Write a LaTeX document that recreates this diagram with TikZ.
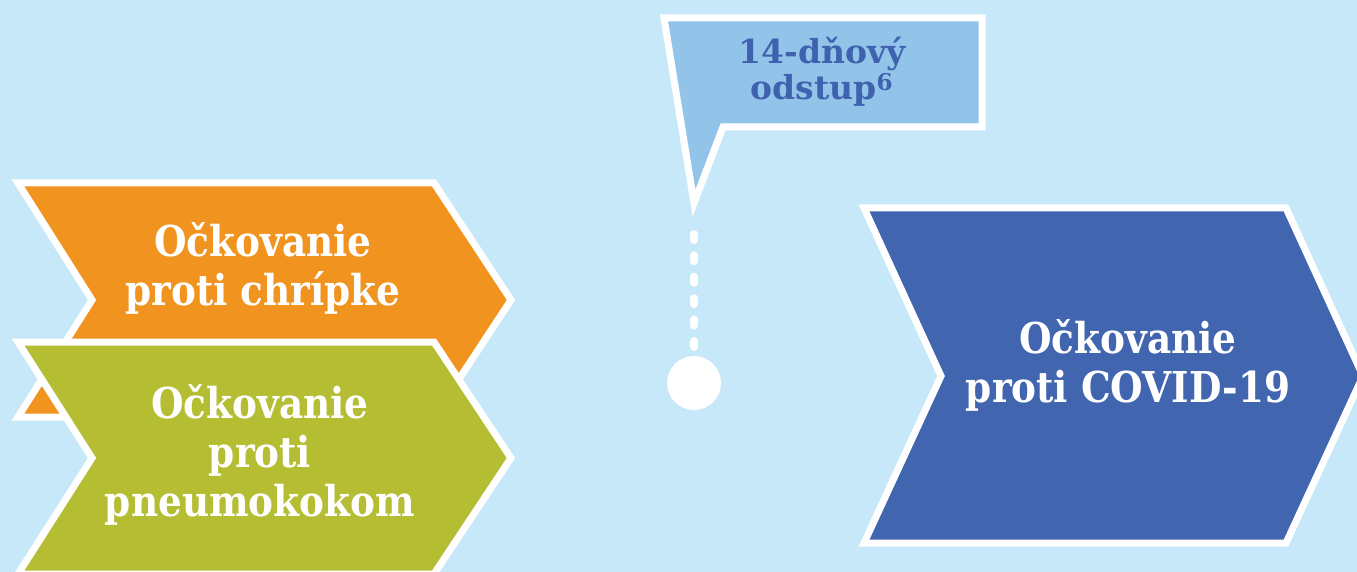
\documentclass[tikz,border=0pt]{standalone}
\usepackage{fontspec}
\setmainfont{DejaVu Serif}[FakeStretch=0.88]
\newfontfamily\calloutfont{DejaVu Serif}
\usetikzlibrary{positioning}
\usepackage{xcolor}
\definecolor{skyback}{HTML}{C6E8F8}
\definecolor{fluorange}{HTML}{F0941F}
\definecolor{pneugreen}{HTML}{B5BD33}
\definecolor{covidblue}{HTML}{4265B0}
\definecolor{calloutblue}{HTML}{92C4EA}
\definecolor{callouttext}{HTML}{3F62AE}

\begin{document}
\begin{tikzpicture}[x=1pt,y=-1pt,
  chevron/.style={draw=white,line width=7pt,line join=miter},
  boxtext/.style={text=white,align=center,inner sep=0pt,font=\bfseries\fontsize{42.5}{49}\selectfont},
  calltext/.style={text=callouttext,align=center,inner sep=0pt,font=\calloutfont\bfseries\fontsize{33}{36}\selectfont}]
  \fill[skyback] (0,0) rectangle (1357,572);
  \useasboundingbox (0,0) rectangle (1357,572);
  \clip (0,0) rectangle (1357,572);
  \draw[chevron,fill=fluorange] (18,183) -- (434,183) -- (511,300) -- (434,417) -- (18,417) -- (92,300) -- cycle;
  \draw[chevron,fill=pneugreen] (18,342) -- (434,342) -- (511,458) -- (434,574) -- (18,574) -- (92,458) -- cycle;
  \draw[chevron,fill=covidblue] (864,208) -- (1286,208) -- (1363,376) -- (1286,543) -- (864,543) -- (941,376) -- cycle;
  \draw[chevron,fill=calloutblue] (664,18) -- (982,18) -- (982,127) -- (723,127) -- (694,203) -- cycle;
  \node[boxtext] (flu) at (263,268) {Očkovanie\\proti chrípke};
  \node[boxtext] (pneumo) at (260,455) {Očkovanie\\proti\\pneumokokom};
  \node[boxtext] (covid) at (1128,365) {Očkovanie\\proti COVID-19};
  \node[calltext] (gap) at (822,72) {14-dňový\\odstup\textsuperscript{6}};
  \coordinate (tail) at (694,234);
  \node[circle,fill=white,minimum size=54pt,inner sep=0pt] (dot) at (694,383) {};
  \draw[white,line width=8pt,line cap=round,dash pattern=on 6pt off 15.4pt] (tail) -- (dot.north);
\end{tikzpicture}
\end{document}
